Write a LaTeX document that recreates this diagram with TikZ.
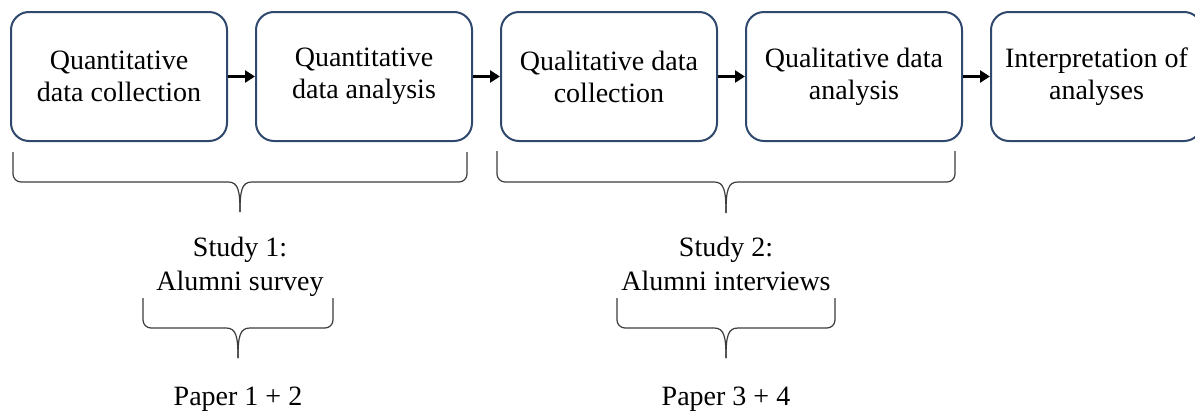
\documentclass[tikz,border=0pt]{standalone}
\usepackage{fontspec}
\setmainfont{Liberation Serif}
\usetikzlibrary{calc,arrows.meta,chains,positioning}
\definecolor{boxblue}{RGB}{47,72,110}
\definecolor{bracegray}{RGB}{60,60,60}

\tikzset{
  stagebox/.style={draw=boxblue,line width=1pt,rounded corners=9pt,align=center,
    minimum height=64.5pt,inner sep=0pt,font=\fontsize{14}{16}\selectfont},
  flowarrow/.style={line width=1.8pt,-{Triangle[length=5pt,width=6pt]}},
  bracepath/.style={draw=bracegray,line width=0.6pt},
  studytext/.style={align=center,inner sep=0pt,font=\fontsize{14}{17}\selectfont}
}

\begin{document}
\begin{tikzpicture}[x=0.5pt,y=-0.5pt]
\useasboundingbox (0,0) rectangle (1195,412);

\begin{scope}[shift={(119,76.5)},start chain=going right,node distance=13.5pt]
\def\stages{1/{Quantitative\\data collection}/108,2/{Quantitative\\data analysis}/108,
  3/{Qualitative data\\collection}/108,4/{Qualitative data\\analysis}/108,
  5/{Interpretation of\\analyses}/105.5}
\foreach \i / \txt / \w in \stages
  \node [stagebox,on chain,minimum width=\w pt] (b\i) {\txt};
\end{scope}

\foreach \i in {1,...,4}{
  \pgfmathtruncatemacro\j{\i+1}
  \draw[flowarrow] (b\i.east) -- (b\j.west);
}

% braces
\foreach \xa / \xb / \yt / \yl / \yb in {13/467/152/182/212,497/955/151/182/213,
  143/333/298/328/358,617/835/298/328/358}{
  \pgfmathsetmacro\xm{(\xa+\xb)/2}
  \draw[bracepath] (\xm,\yb) .. controls (\xm,\yl+8) and (\xm-2,\yl) .. (\xm-12,\yl)
    [rounded corners=4pt] -- (\xa,\yl) -- (\xa,\yt);
  \draw[bracepath] (\xm,\yb) .. controls (\xm,\yl+8) and (\xm+2,\yl) .. (\xm+12,\yl)
    [rounded corners=4pt] -- (\xb,\yl) -- (\xb,\yt);
}

\node[studytext,anchor=north] (s1) at (240,237) {Study 1:\\Alumni survey};
\node[studytext,anchor=north] (s2) at (726,237) {Study 2:\\Alumni interviews};
\node[studytext,anchor=base] (p1) at (238,405) {Paper 1 + 2};
\node[studytext,anchor=base] (p2) at (726,405) {Paper 3 + 4};

\end{tikzpicture}
\end{document}
